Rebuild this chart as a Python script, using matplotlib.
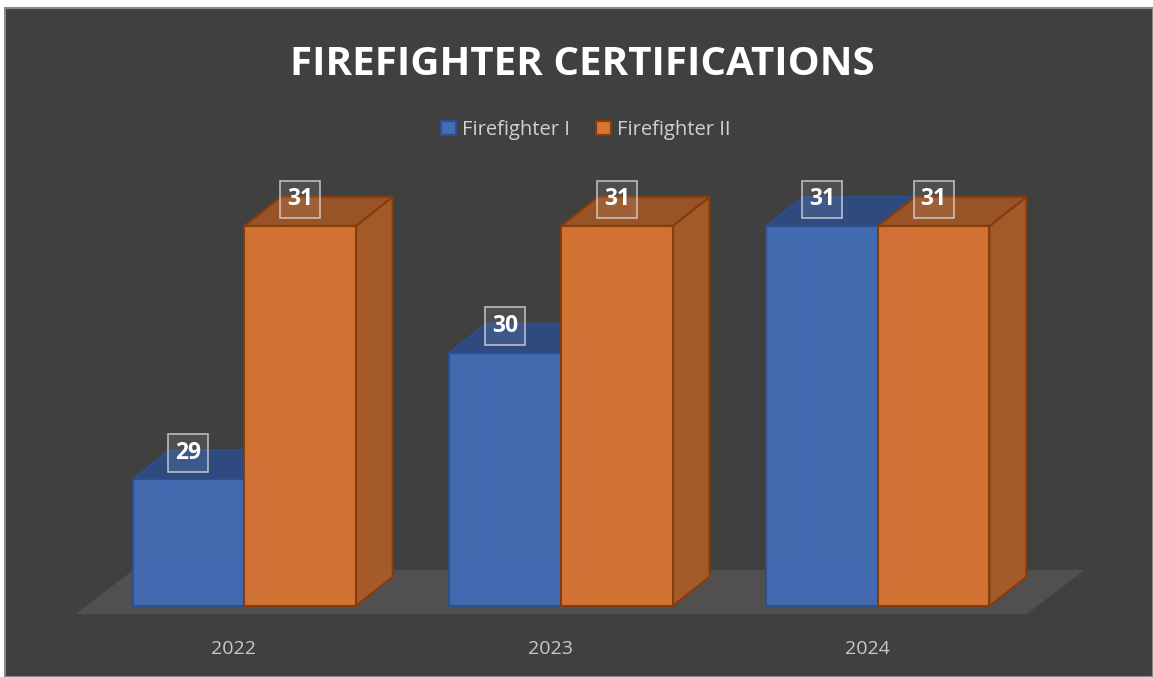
import matplotlib
matplotlib.use('Agg')
import matplotlib.pyplot as plt
from matplotlib.patches import Polygon, Rectangle, Patch
import numpy as np

# data
years = ['2022', '2023', '2024']
series_names = ['Firefighter I', 'Firefighter II']
firefighter_1 = [29, 30, 31]
firefighter_2 = [31, 31, 31]

# styling
bg = '#404040'
floor_color = '#514F4F'
front_colors = ['#436CB5', '#D87432']
top_colors = ['#2E4B82', '#9C5426']
side_colors = ['#30508A', '#A85B28']
edge_colors = ['#2F4F8A', '#843C0C']
base = 28
bar_w = 0.352
depth_x, depth_y = 0.117, 0.23

fig = plt.figure(figsize=(11.53, 6.77), dpi=100, facecolor='white')
# dark chart area (screenshot has thin white margin top/left)
fig.patches.append(Rectangle((5 / 1153, 0), 1 - 5 / 1153, 1 - 8 / 677,
                             transform=fig.transFigure, facecolor=bg,
                             edgecolor='#8A8A8A', lw=1.5, zorder=-5))

ax = fig.add_axes([54 / 1153, (677 - 618.7) / 677, 1014 / 1153, 468.7 / 677])
ax.set_zorder(2)
ax.set_xlim(-0.6, 2.6)
ax.set_ylim(27.9, 31.6)
ax.set_facecolor('none')
for s in ax.spines.values():
    s.set_visible(False)
ax.set_yticks([])

# floor
fx0, fx1 = -0.533, 2.47
fy0 = 27.937
fdx, fdy = 0.183, 0.347
ax.add_patch(Polygon([(fx0, fy0), (fx1, fy0), (fx1 + fdx, fy0 + fdy), (fx0 + fdx, fy0 + fdy)],
                     closed=True, facecolor=floor_color, edgecolor='none', zorder=1,
                     clip_on=False))


def draw_bar(x0, val, j):
    y0, y1 = base, val
    w, dx, dy = bar_w, depth_x, depth_y
    ec = edge_colors[j]
    # hidden edges, seen faintly through the faces
    for xs, ys in [([x0 + dx, x0 + dx], [y0 + dy, y1 + dy]),
                   ([x0 + dx, x0 + w + dx], [y0 + dy, y0 + dy]),
                   ([x0, x0 + dx], [y0, y0 + dy])]:
        ax.plot(xs, ys, color=front_colors[j], lw=1, alpha=0.6, zorder=2)
    side = [(x0 + w, y0), (x0 + w + dx, y0 + dy), (x0 + w + dx, y1 + dy), (x0 + w, y1)]
    top = [(x0, y1), (x0 + w, y1), (x0 + w + dx, y1 + dy), (x0 + dx, y1 + dy)]
    front = [(x0, y0), (x0 + w, y0), (x0 + w, y1), (x0, y1)]
    ax.add_patch(Polygon(side, closed=True, facecolor=side_colors[j], edgecolor=ec,
                         lw=1.5, alpha=0.97, zorder=3))
    ax.add_patch(Polygon(top, closed=True, facecolor=top_colors[j], edgecolor=ec,
                         lw=1.5, alpha=0.97, zorder=3))
    ax.add_patch(Polygon(front, closed=True, facecolor=front_colors[j], edgecolor=ec,
                         lw=1.5, alpha=0.96, zorder=3))


all_series = [firefighter_1, firefighter_2]
for i in range(len(years)):
    for j, vals in enumerate(all_series):
        x0 = i + (j - 1) * bar_w
        draw_bar(x0, vals[i], j)

# value labels
for i in range(len(years)):
    for j, vals in enumerate(all_series):
        x0 = i + (j - 1) * bar_w
        ax.text(x0 + bar_w / 2, vals[i] + 0.21, str(vals[i]), ha='center', va='center',
                color='white', fontsize=16.5, fontweight='bold', family='Open Sans', zorder=6,
                bbox=dict(boxstyle='square,pad=0.3', facecolor=(1, 1, 1, 0.08),
                          edgecolor=(0.85, 0.85, 0.85, 0.8), lw=1.2))

# category labels
ax.set_xticks([i - 0.033 for i in range(len(years))])
ax.set_xticklabels(years, color='#C8C8C8', fontsize=14, family='Open Sans')
ax.tick_params(axis='x', length=0, pad=15)

# title
fig.text(582.5 / 1153, 1 - 75 / 677, 'FIREFIGHTER CERTIFICATIONS', ha='center', va='baseline',
         color='white', fontsize=29, fontweight='bold', family='Open Sans')

# legend
handles = [Patch(facecolor=front_colors[j], edgecolor=edge_colors[j], lw=1.5, label=series_names[j])
           for j in range(2)]
fig.legend(handles=handles, loc='center', bbox_to_anchor=(585.5 / 1153, 1 - 130 / 677), ncol=2,
           frameon=False, prop={'family': 'Open Sans', 'size': 14.5}, labelcolor='#D0D0D0',
           handlelength=0.75, handleheight=0.75, handletextpad=0.3, columnspacing=1.3)

fig.savefig('out.png', dpi=100, facecolor=fig.get_facecolor())
